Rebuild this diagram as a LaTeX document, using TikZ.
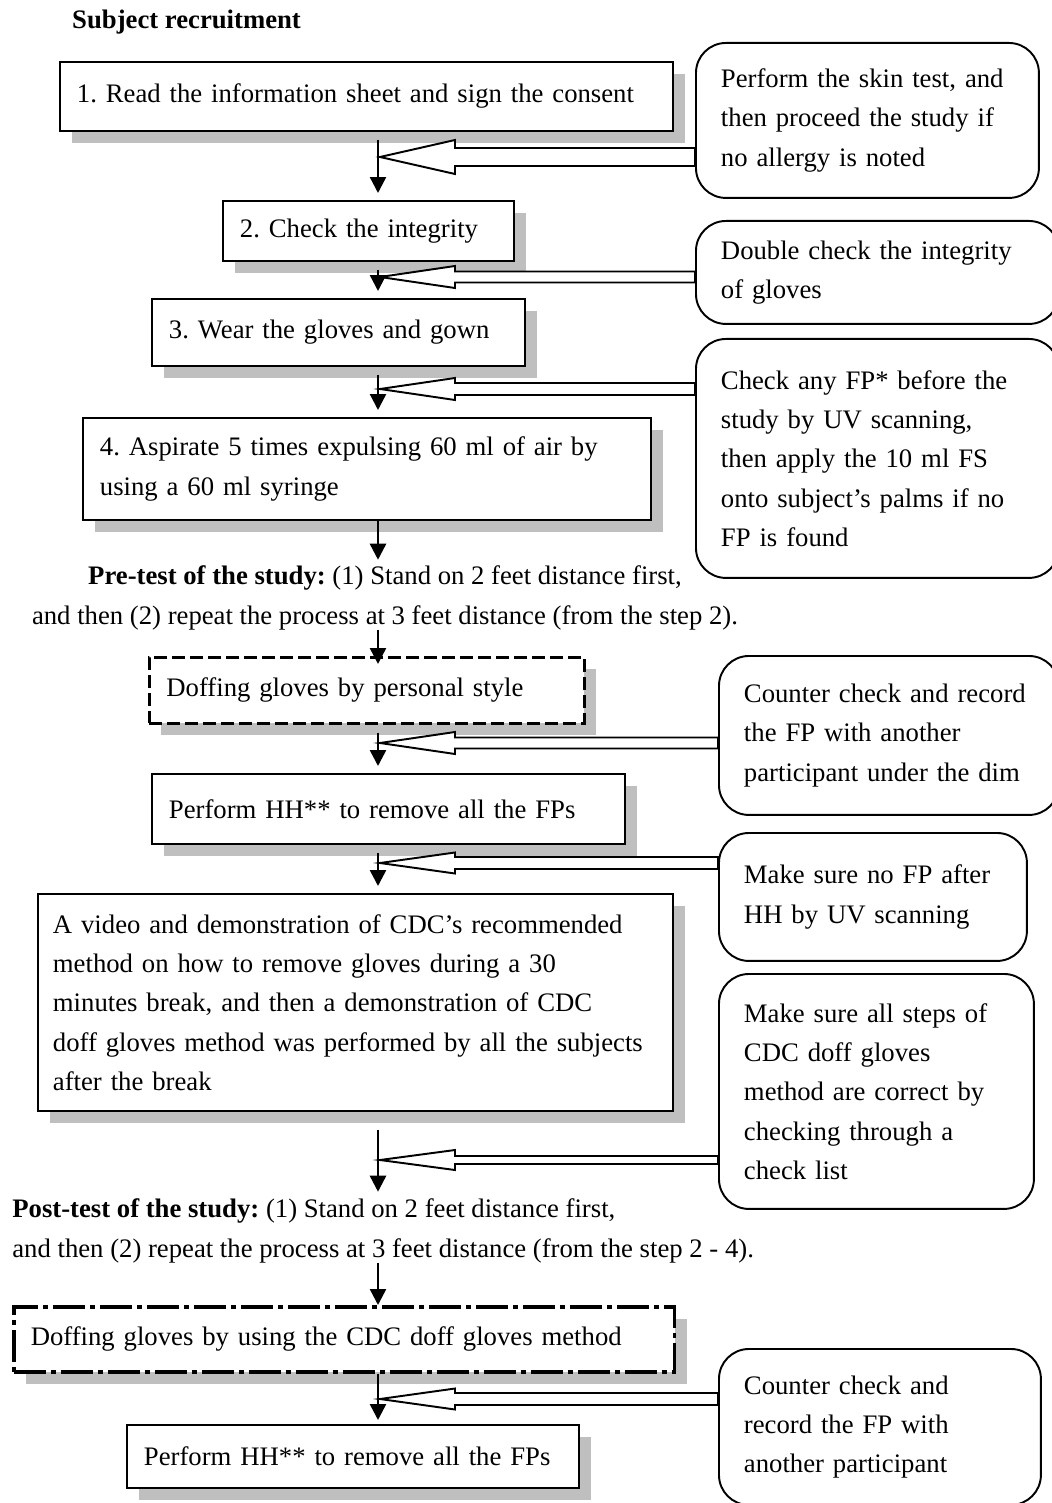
\documentclass[tikz,border=0pt]{standalone}
\usepackage{fontspec}
\setmainfont{Liberation Serif}
\usepackage{tikz}
\usetikzlibrary{shadows, calc}
\usetikzlibrary{arrows.meta}
\frenchspacing

% hollow side arrow: #1 note node, #2 tip coordinate, #3 half shaft, #4 half head
\newcommand{\fatarrow}[4]{%
  \draw[line width=1.1pt, fill=white, line join=miter]
    (#2) -- ++(75,-#4) -- ++(0,#4-#3) -- ($(#1.west |- #2)+(0,-#3)$)
    -- ++(0,2*#3) -- ($(#2)+(75,#3)$) -- ++(0,#4-#3) -- cycle;}

\begin{document}
\begin{tikzpicture}[x=0.02cm, y=-0.02cm,
    every node/.style={font=\fontsize{15.2}{22.4}\selectfont},
    stepbox/.style={draw, line width=1.1pt, fill=white, anchor=north west, align=left, inner xsep=0.34cm,
        general shadow={fill=black!25, shadow xshift=0.24cm, shadow yshift=-0.24cm}},
    notebox/.style={draw, line width=1.1pt, fill=white, rounded corners=0.6cm, anchor=north west,
        align=left, inner xsep=0.5cm},
    flow/.style={-{Triangle[length=0.32cm, width=0.32cm]}, line width=1.4pt, shorten <=0.16cm, shorten >=0.14cm}]
  \useasboundingbox (0,0) rectangle (1051,1503);
  \coordinate (spine) at (378,0);

  % --- steps ---
  \node[font=\fontsize{15.2}{22.4}\selectfont\bfseries, anchor=west] (title) at (66,22) {Subject recruitment};
  \node[stepbox, text width=11.58cm, minimum height=1.38cm] (b1) at (59,61) {1. Read the information sheet and sign the consent};
  \node[stepbox, text width=5.14cm, minimum height=1.2cm] (b2) at (222,200) {2. Check the integrity};
  \node[stepbox, text width=6.78cm, minimum height=1.34cm] (b3) at (151,298) {3. Wear the gloves and gown};
  \node[stepbox, text width=10.68cm, minimum height=2.04cm] (b4) at (82,417) {4. Aspirate 5 times expulsing 60 ml of air by\\using a 60 ml syringe};
  \node[align=center, inner sep=0pt] (pre) at (385,598) {\textbf{Pre-test of the study:} (1) Stand on 2 feet distance first,\\and then (2) repeat the process at 3 feet distance (from the step 2).};
  \node[stepbox, dash pattern=on 0.26cm off 0.1cm, line width=1.6pt, text width=8.02cm, minimum height=1.32cm] (d1) at (148,656) {Doffing gloves by personal style};
  \node[stepbox, text width=8.78cm, minimum height=1.4cm] (b5) at (151,773) {Perform HH** to remove all the FPs};
  \node[stepbox, inner xsep=0.3cm, text width=12.1cm, minimum height=4.34cm] (b6) at (37,893) {A video and demonstration of CDC's recommended\\method on how to remove gloves during a 30\\minutes break, and then a demonstration of CDC\\doff gloves method was performed by all the subjects\\after the break};
  \node[align=left, anchor=west, inner sep=0pt] (post) at (12,1231) {\textbf{Post-test of the study:} (1) Stand on 2 feet distance first,\\and then (2) repeat the process at 3 feet distance (from the step 2 - 4).};
  \node[stepbox, dash pattern=on 0.64cm off 0.1cm on 0.1cm off 0.1cm, line width=2pt, text width=12.54cm, minimum height=1.3cm] (d2) at (12,1305) {Doffing gloves by using the CDC doff gloves method};
  \node[stepbox, text width=8.36cm, minimum height=1.26cm] (b7) at (126,1424) {Perform HH** to remove all the FPs};

  % --- main flow ---
  \draw[flow] (b1.south -| spine) -- (b2.north -| spine);
  \draw[flow] (b2.south -| spine) -- (b3.north -| spine);
  \draw[flow] (b3.south -| spine) -- (b4.north -| spine);
  \draw[flow, shorten <=0pt, shorten >=0.12cm] (b4.south -| spine) -- (pre.north -| spine);
  \draw[flow, shorten <=0pt, shorten >=-0.16cm] (pre.south -| spine) -- (d1.north -| spine);
  \draw[flow] (d1.south -| spine) -- (b5.north -| spine);
  \draw[flow] (b5.south -| spine) -- (b6.north -| spine);
  \draw[flow, shorten <=0.36cm] (b6.south -| spine) -- (post.north -| spine);
  \draw[flow, shorten <=0pt, shorten >=0pt] (post.south -| spine) -- (d2.north -| spine);
  \draw[flow, shorten <=0pt, shorten >=0.08cm] (d2.south -| spine) -- (b7.north -| spine);

  % --- side notes ---
  \node[notebox, text width=5.86cm, minimum height=3.1cm] (r1) at (695,42) {Perform the skin test, and\\then proceed the study if\\no allergy is noted};
  \node[notebox, text width=6.26cm, minimum height=2.06cm] (r2) at (695,220) {Double check the integrity\\of gloves};
  \node[notebox, text width=6.26cm, minimum height=4.78cm] (r3) at (695,338) {Check any FP* before the\\study by UV scanning,\\then apply the 10 ml FS\\onto subject's palms if no\\FP is found};
  \node[notebox, text width=5.8cm, minimum height=3.18cm] (r4) at (718,655) {Counter check and record\\the FP with another\\participant under the dim};
  \node[notebox, text width=5.16cm, minimum height=2.56cm] (r5) at (718,832) {Make sure no FP after\\HH by UV scanning};
  \node[notebox, text width=5.3cm, minimum height=4.7cm] (r6) at (718,973) {Make sure all steps of\\CDC doff gloves\\method are correct by\\checking through a\\check list};
  \node[notebox, text width=5.44cm, minimum height=3.12cm] (r7) at (718,1348) {Counter check and\\record the FP with\\another participant};

  % --- hollow arrows into the flow ---
  \coordinate (t1) at (380,157);
  \coordinate (t2) at (380,277);
  \coordinate (t3) at (380,389);
  \coordinate (t4) at (380,743);
  \coordinate (t5) at (380,863);
  \coordinate (t6) at (380,1160);
  \coordinate (t7) at (380,1399);
  \fatarrow{r1}{t1}{9}{17}
  \fatarrow{r2}{t2}{5.5}{11}
  \fatarrow{r3}{t3}{6}{11}
  \fatarrow{r4}{t4}{5.5}{11}
  \fatarrow{r5}{t5}{6}{10.5}
  \fatarrow{r6}{t6}{4}{10}
  \fatarrow{r7}{t7}{6}{10.5}
\end{tikzpicture}
\end{document}
